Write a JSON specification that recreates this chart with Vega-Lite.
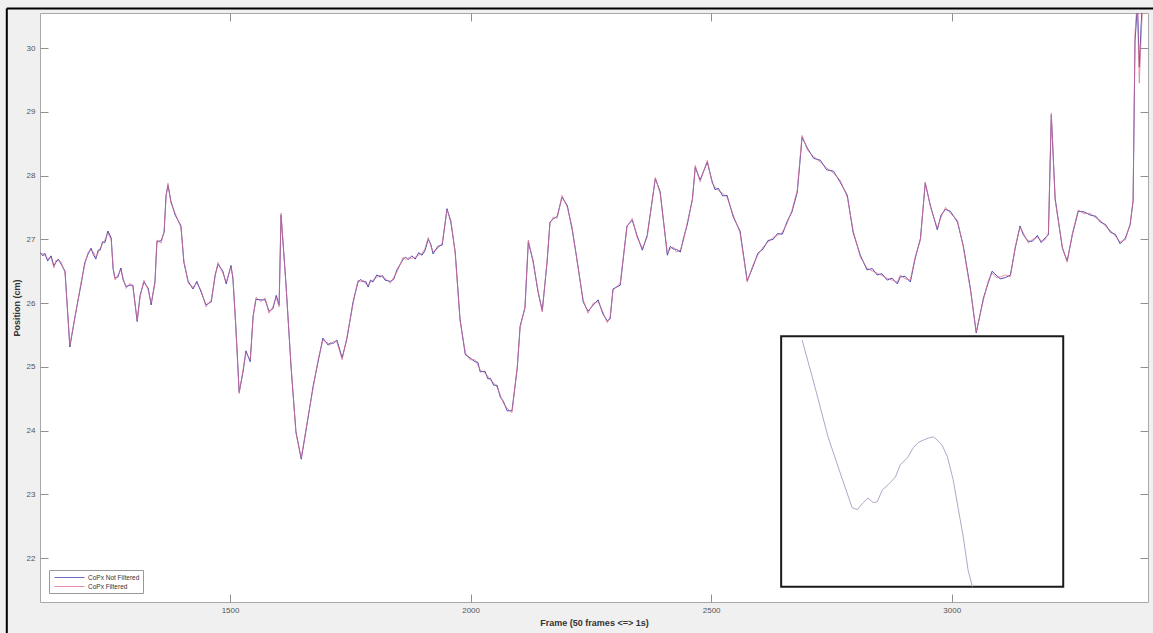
{
"$schema": "https://vega.github.io/schema/vega-lite/v6.json",
"width": 1108, "height": 589,
"autosize": {"type": "none"},
"padding": {"left": 40, "top": 13, "right": 5, "bottom": 31},
"background": "#f0f0f0",
"config": {
  "view": {"fill": "white", "stroke": "#a8a8a8", "strokeWidth": 1},
  "axis": {"grid": false, "domain": false, "tickSize": -8, "tickColor": "#909090", "labelFont": "Liberation Sans", "labelFontSize": 8, "labelColor": "#555555", "titleFont": "Liberation Sans", "titleFontSize": 9, "titleColor": "#333333", "titleFontWeight": "bold"}
},
"datasets": {
  "cop": [
{"f":1106,"filt":26.76,"raw":26.79},{"f":1111,"filt":26.78,"raw":26.74},{"f":1115,"filt":26.75,"raw":26.78},{"f":1121,"filt":26.70,"raw":26.66},{"f":1128,"filt":26.71,"raw":26.74},{"f":1134,"filt":26.55,"raw":26.58},{"f":1138,"filt":26.67,"raw":26.64},{"f":1143,"filt":26.66,"raw":26.69},{"f":1149,"filt":26.64,"raw":26.61},{"f":1157,"filt":26.47,"raw":26.50},{"f":1167,"filt":25.34,"raw":25.31},{"f":1178,"filt":25.78,"raw":25.80},{"f":1190,"filt":26.31,"raw":26.28},{"f":1198,"filt":26.60,"raw":26.63},{"f":1205,"filt":26.80,"raw":26.77},{"f":1211,"filt":26.83,"raw":26.86},{"f":1216,"filt":26.80,"raw":26.76},{"f":1221,"filt":26.72,"raw":26.69},{"f":1226,"filt":26.79,"raw":26.83},{"f":1230,"filt":26.86,"raw":26.83},{"f":1235,"filt":26.93,"raw":26.96},{"f":1240,"filt":26.99,"raw":26.95},{"f":1246,"filt":27.10,"raw":27.13},{"f":1253,"filt":26.99,"raw":27.02},{"f":1257,"filt":26.56,"raw":26.53},{"f":1261,"filt":26.36,"raw":26.39},{"f":1267,"filt":26.44,"raw":26.41},{"f":1273,"filt":26.52,"raw":26.55},{"f":1278,"filt":26.39,"raw":26.36},{"f":1284,"filt":26.23,"raw":26.26},{"f":1292,"filt":26.31,"raw":26.28},{"f":1298,"filt":26.25,"raw":26.28},{"f":1307,"filt":25.73,"raw":25.71},{"f":1313,"filt":26.09,"raw":26.12},{"f":1321,"filt":26.36,"raw":26.33},{"f":1330,"filt":26.20,"raw":26.23},{"f":1336,"filt":26.00,"raw":25.97},{"f":1344,"filt":26.31,"raw":26.34},{"f":1348,"filt":26.99,"raw":26.96},{"f":1357,"filt":26.94,"raw":26.98},{"f":1363,"filt":27.14,"raw":27.11},{"f":1367,"filt":27.66,"raw":27.69},{"f":1371,"filt":27.88,"raw":27.85},{"f":1377,"filt":27.57,"raw":27.60},{"f":1386,"filt":27.41,"raw":27.38},{"f":1398,"filt":27.18,"raw":27.21},{"f":1404,"filt":26.67,"raw":26.64},{"f":1413,"filt":26.31,"raw":26.34},{"f":1423,"filt":26.25,"raw":26.22},{"f":1431,"filt":26.31,"raw":26.34},{"f":1440,"filt":26.20,"raw":26.17},{"f":1450,"filt":25.94,"raw":25.97},{"f":1461,"filt":26.05,"raw":26.02},{"f":1469,"filt":26.41,"raw":26.44},{"f":1475,"filt":26.64,"raw":26.61},{"f":1485,"filt":26.47,"raw":26.50},{"f":1492,"filt":26.33,"raw":26.30},{"f":1502,"filt":26.56,"raw":26.59},{"f":1506,"filt":26.41,"raw":26.38},{"f":1512,"filt":25.62,"raw":25.64},{"f":1519,"filt":24.58,"raw":24.60},{"f":1527,"filt":24.95,"raw":24.92},{"f":1533,"filt":25.22,"raw":25.25},{"f":1542,"filt":25.11,"raw":25.08},{"f":1548,"filt":25.78,"raw":25.80},{"f":1554,"filt":26.09,"raw":26.06},{"f":1564,"filt":26.02,"raw":26.05},{"f":1573,"filt":26.08,"raw":26.05},{"f":1581,"filt":25.84,"raw":25.87},{"f":1589,"filt":25.94,"raw":25.91},{"f":1596,"filt":26.09,"raw":26.12},{"f":1602,"filt":25.94,"raw":25.97},{"f":1606,"filt":27.41,"raw":27.38},{"f":1616,"filt":26.31,"raw":26.33},{"f":1627,"filt":25.00,"raw":24.98},{"f":1637,"filt":23.96,"raw":23.98},{"f":1648,"filt":23.57,"raw":23.55},{"f":1662,"filt":24.21,"raw":24.19},{"f":1673,"filt":24.68,"raw":24.71},{"f":1683,"filt":25.11,"raw":25.08},{"f":1693,"filt":25.42,"raw":25.45},{"f":1704,"filt":25.37,"raw":25.34},{"f":1708,"filt":25.34,"raw":25.37},{"f":1715,"filt":25.40,"raw":25.37},{"f":1722,"filt":25.39,"raw":25.42},{"f":1733,"filt":25.11,"raw":25.14},{"f":1743,"filt":25.47,"raw":25.44},{"f":1756,"filt":26.00,"raw":26.03},{"f":1766,"filt":26.36,"raw":26.33},{"f":1772,"filt":26.33,"raw":26.37},{"f":1777,"filt":26.36,"raw":26.33},{"f":1782,"filt":26.30,"raw":26.34},{"f":1787,"filt":26.28,"raw":26.25},{"f":1792,"filt":26.33,"raw":26.36},{"f":1797,"filt":26.36,"raw":26.33},{"f":1805,"filt":26.40,"raw":26.44},{"f":1812,"filt":26.44,"raw":26.41},{"f":1817,"filt":26.40,"raw":26.43},{"f":1822,"filt":26.39,"raw":26.36},{"f":1833,"filt":26.31,"raw":26.34},{"f":1840,"filt":26.40,"raw":26.37},{"f":1847,"filt":26.49,"raw":26.52},{"f":1860,"filt":26.72,"raw":26.69},{"f":1865,"filt":26.68,"raw":26.72},{"f":1870,"filt":26.71,"raw":26.68},{"f":1878,"filt":26.70,"raw":26.74},{"f":1885,"filt":26.72,"raw":26.69},{"f":1892,"filt":26.75,"raw":26.79},{"f":1899,"filt":26.78,"raw":26.75},{"f":1905,"filt":26.85,"raw":26.82},{"f":1912,"filt":27.03,"raw":27.00},{"f":1917,"filt":26.90,"raw":26.93},{"f":1922,"filt":26.80,"raw":26.77},{"f":1932,"filt":26.86,"raw":26.89},{"f":1941,"filt":26.94,"raw":26.91},{"f":1951,"filt":27.46,"raw":27.48},{"f":1959,"filt":27.30,"raw":27.27},{"f":1968,"filt":26.78,"raw":26.80},{"f":1978,"filt":25.73,"raw":25.75},{"f":1989,"filt":25.22,"raw":25.19},{"f":1999,"filt":25.11,"raw":25.14},{"f":2009,"filt":25.11,"raw":25.08},{"f":2015,"filt":25.03,"raw":25.07},{"f":2020,"filt":24.95,"raw":24.92},{"f":2030,"filt":24.90,"raw":24.93},{"f":2036,"filt":24.85,"raw":24.81},{"f":2041,"filt":24.79,"raw":24.82},{"f":2048,"filt":24.75,"raw":24.71},{"f":2055,"filt":24.68,"raw":24.71},{"f":2062,"filt":24.55,"raw":24.52},{"f":2068,"filt":24.43,"raw":24.46},{"f":2076,"filt":24.35,"raw":24.31},{"f":2086,"filt":24.28,"raw":24.31},{"f":2097,"filt":25.00,"raw":24.98},{"f":2103,"filt":25.62,"raw":25.64},{"f":2113,"filt":25.94,"raw":25.92},{"f":2120,"filt":26.99,"raw":26.96},{"f":2130,"filt":26.63,"raw":26.66},{"f":2140,"filt":26.20,"raw":26.18},{"f":2149,"filt":25.86,"raw":25.88},{"f":2159,"filt":26.67,"raw":26.64},{"f":2165,"filt":27.25,"raw":27.27},{"f":2172,"filt":27.35,"raw":27.32},{"f":2180,"filt":27.33,"raw":27.36},{"f":2190,"filt":27.69,"raw":27.66},{"f":2201,"filt":27.50,"raw":27.53},{"f":2211,"filt":27.19,"raw":27.16},{"f":2221,"filt":26.67,"raw":26.69},{"f":2234,"filt":26.05,"raw":26.02},{"f":2244,"filt":25.84,"raw":25.87},{"f":2255,"filt":26.00,"raw":25.97},{"f":2265,"filt":26.02,"raw":26.05},{"f":2275,"filt":25.86,"raw":25.83},{"f":2284,"filt":25.69,"raw":25.72},{"f":2290,"filt":25.78,"raw":25.75},{"f":2296,"filt":26.20,"raw":26.22},{"f":2311,"filt":26.31,"raw":26.28},{"f":2325,"filt":27.19,"raw":27.21},{"f":2336,"filt":27.33,"raw":27.30},{"f":2346,"filt":27.03,"raw":27.06},{"f":2357,"filt":26.86,"raw":26.83},{"f":2367,"filt":27.03,"raw":27.06},{"f":2384,"filt":27.97,"raw":27.95},{"f":2394,"filt":27.72,"raw":27.75},{"f":2409,"filt":26.78,"raw":26.75},{"f":2415,"filt":26.85,"raw":26.89},{"f":2421,"filt":26.88,"raw":26.85},{"f":2428,"filt":26.80,"raw":26.84},{"f":2436,"filt":26.83,"raw":26.80},{"f":2443,"filt":27.00,"raw":27.03},{"f":2450,"filt":27.25,"raw":27.22},{"f":2461,"filt":27.61,"raw":27.63},{"f":2467,"filt":28.16,"raw":28.13},{"f":2477,"filt":27.90,"raw":27.93},{"f":2492,"filt":28.24,"raw":28.21},{"f":2502,"filt":27.88,"raw":27.91},{"f":2508,"filt":27.82,"raw":27.78},{"f":2515,"filt":27.77,"raw":27.80},{"f":2524,"filt":27.72,"raw":27.68},{"f":2533,"filt":27.66,"raw":27.69},{"f":2546,"filt":27.38,"raw":27.35},{"f":2560,"filt":27.10,"raw":27.13},{"f":2575,"filt":26.33,"raw":26.35},{"f":2587,"filt":26.60,"raw":26.57},{"f":2597,"filt":26.75,"raw":26.78},{"f":2608,"filt":26.88,"raw":26.85},{"f":2618,"filt":26.95,"raw":26.98},{"f":2629,"filt":27.03,"raw":27.00},{"f":2638,"filt":27.06,"raw":27.09},{"f":2648,"filt":27.11,"raw":27.08},{"f":2658,"filt":27.25,"raw":27.28},{"f":2668,"filt":27.46,"raw":27.43},{"f":2679,"filt":27.77,"raw":27.74},{"f":2689,"filt":28.63,"raw":28.60},{"f":2700,"filt":28.40,"raw":28.43},{"f":2713,"filt":28.30,"raw":28.27},{"f":2727,"filt":28.21,"raw":28.24},{"f":2740,"filt":28.12,"raw":28.09},{"f":2754,"filt":28.04,"raw":28.07},{"f":2768,"filt":27.93,"raw":27.90},{"f":2783,"filt":27.66,"raw":27.69},{"f":2795,"filt":27.14,"raw":27.11},{"f":2810,"filt":26.72,"raw":26.75},{"f":2824,"filt":26.55,"raw":26.52},{"f":2835,"filt":26.50,"raw":26.54},{"f":2845,"filt":26.47,"raw":26.44},{"f":2855,"filt":26.43,"raw":26.46},{"f":2866,"filt":26.39,"raw":26.36},{"f":2876,"filt":26.36,"raw":26.39},{"f":2887,"filt":26.33,"raw":26.30},{"f":2893,"filt":26.44,"raw":26.41},{"f":2903,"filt":26.38,"raw":26.42},{"f":2914,"filt":26.36,"raw":26.33},{"f":2924,"filt":26.72,"raw":26.70},{"f":2935,"filt":26.99,"raw":27.01},{"f":2945,"filt":27.90,"raw":27.88},{"f":2956,"filt":27.50,"raw":27.52},{"f":2970,"filt":27.18,"raw":27.15},{"f":2978,"filt":27.35,"raw":27.38},{"f":2987,"filt":27.50,"raw":27.47},{"f":2997,"filt":27.41,"raw":27.44},{"f":3012,"filt":27.30,"raw":27.27},{"f":3024,"filt":26.88,"raw":26.90},{"f":3039,"filt":26.20,"raw":26.22},{"f":3051,"filt":25.55,"raw":25.53},{"f":3066,"filt":26.05,"raw":26.08},{"f":3076,"filt":26.35,"raw":26.32},{"f":3084,"filt":26.47,"raw":26.50},{"f":3092,"filt":26.40,"raw":26.44},{"f":3101,"filt":26.41,"raw":26.38},{"f":3112,"filt":26.44,"raw":26.40},{"f":3122,"filt":26.41,"raw":26.44},{"f":3132,"filt":26.88,"raw":26.86},{"f":3142,"filt":27.19,"raw":27.21},{"f":3149,"filt":27.10,"raw":27.07},{"f":3159,"filt":26.94,"raw":26.97},{"f":3168,"filt":27.00,"raw":26.97},{"f":3178,"filt":27.03,"raw":27.06},{"f":3186,"filt":26.98,"raw":26.95},{"f":3194,"filt":26.99,"raw":27.02},{"f":3201,"filt":27.10,"raw":27.07},{"f":3207,"filt":28.98,"raw":28.95},{"f":3215,"filt":27.61,"raw":27.64},{"f":3230,"filt":26.88,"raw":26.86},{"f":3240,"filt":26.64,"raw":26.66},{"f":3251,"filt":27.10,"raw":27.08},{"f":3263,"filt":27.46,"raw":27.44},{"f":3275,"filt":27.40,"raw":27.43},{"f":3288,"filt":27.41,"raw":27.38},{"f":3300,"filt":27.33,"raw":27.36},{"f":3309,"filt":27.30,"raw":27.27},{"f":3320,"filt":27.20,"raw":27.23},{"f":3330,"filt":27.14,"raw":27.11},{"f":3340,"filt":27.05,"raw":27.08},{"f":3350,"filt":26.96,"raw":26.93},{"f":3361,"filt":26.99,"raw":27.02},{"f":3371,"filt":27.25,"raw":27.23},{"f":3377,"filt":27.61,"raw":27.60},{"f":3381,"filt":30.23,"raw":30.10},{"f":3386,"filt":30.80,"raw":30.70},{"f":3388,"filt":29.97,"raw":30.20},{"f":3390,"filt":29.45,"raw":29.70},{"f":3394,"filt":30.23,"raw":30.40},{"f":3398,"filt":30.80,"raw":30.90},{"f":3408,"filt":31.0,"raw":31.0}
  ],
  "inset": [
{"f":2689,"pos":25.42},{"f":2712,"pos":24.79},{"f":2743,"pos":23.90},{"f":2768,"pos":23.34},{"f":2793,"pos":22.79},{"f":2804,"pos":22.76},{"f":2816,"pos":22.87},{"f":2826,"pos":22.94},{"f":2837,"pos":22.87},{"f":2845,"pos":22.88},{"f":2856,"pos":23.07},{"f":2868,"pos":23.15},{"f":2883,"pos":23.27},{"f":2893,"pos":23.46},{"f":2908,"pos":23.57},{"f":2920,"pos":23.73},{"f":2930,"pos":23.81},{"f":2941,"pos":23.85},{"f":2951,"pos":23.88},{"f":2962,"pos":23.90},{"f":2970,"pos":23.85},{"f":2980,"pos":23.77},{"f":2991,"pos":23.59},{"f":3003,"pos":23.23},{"f":3013,"pos":22.80},{"f":3024,"pos":22.33},{"f":3034,"pos":21.81},{"f":3043,"pos":21.55}
  ],
  "box": [{"x1": 2645.5, "x2": 3231.8, "y1": 21.55, "y2": 25.48}],
  "frame": [{"xa": 1036, "xb": 3430, "ya": 30.62, "yb": 20.7}]
},
"layer": [
  {
    "data": {"name": "cop"},
    "mark": {"type": "line", "clip": true, "strokeWidth": 1},
    "encoding": {
      "x": {"field": "f", "type": "quantitative", "scale": {"domain": [1105, 3408], "nice": false, "zero": false},
            "axis": {"orient": "bottom", "values": [1500, 2000, 2500, 3000], "format": "d", "title": "Frame (50 frames <=> 1s)", "labelPadding": 12, "titlePadding": 4}},
      "y": {"field": "raw", "type": "quantitative", "scale": {"domain": [21.31, 30.55], "nice": false, "zero": false},
            "axis": {"orient": "left", "values": [22, 23, 24, 25, 26, 27, 28, 29, 30], "format": "d", "title": "Position (cm)", "labelPadding": 13, "titlePadding": 5}},
      "color": {"datum": "CoPx Not Filtered", "type": "nominal",
                "scale": {"domain": ["CoPx Not Filtered", "CoPx Filtered"], "range": ["#4848b4", "#e2708c"]},
                "legend": {"orient": "bottom-left", "offset": 9, "title": null, "fillColor": "white", "strokeColor": "#999999", "padding": 3, "labelFontSize": 6.5, "labelColor": "#333333", "labelFont": "Liberation Sans", "symbolType": "M-0.5,0H7", "symbolSize": 64, "symbolStrokeWidth": 1, "rowPadding": 1, "labelOffset": 27}}
    }
  },
  {
    "data": {"name": "cop"},
    "mark": {"type": "line", "clip": true, "strokeWidth": 0.9, "opacity": 0.8},
    "encoding": {
      "x": {"field": "f", "type": "quantitative", "axis": {"orient": "top", "values": [1500, 2000, 2500, 3000], "labels": false, "title": null}},
      "y": {"field": "filt", "type": "quantitative", "axis": {"orient": "right", "values": [22, 23, 24, 25, 26, 27, 28, 29, 30], "labels": false, "title": null}},
      "color": {"datum": "CoPx Filtered", "type": "nominal"}
    }
  },
  {
    "data": {"name": "box"},
    "mark": {"type": "rect", "fill": "white", "stroke": "#1a1a1a", "strokeWidth": 2},
    "encoding": {
      "x": {"field": "x1", "type": "quantitative", "axis": null},
      "x2": {"field": "x2"},
      "y": {"field": "y1", "type": "quantitative", "axis": null},
      "y2": {"field": "y2"}
    }
  },
  {
    "data": {"name": "inset"},
    "mark": {"type": "line", "color": "#b4a4c8", "strokeWidth": 1, "clip": true},
    "encoding": {
      "x": {"field": "f", "type": "quantitative", "axis": null},
      "y": {"field": "pos", "type": "quantitative", "axis": null}
    }
  },
  {
    "mark": {"type": "text", "text": "Zoom illustratif", "font": "Open Sans", "fontStyle": "italic", "fontSize": 21, "color": "#222222", "baseline": "middle", "align": "center"},
    "encoding": {
      "x": {"datum": 2966, "type": "quantitative", "axis": null},
      "y": {"datum": 24.78, "type": "quantitative", "axis": null}
    }
  },
  {
    "data": {"name": "frame"},
    "mark": {"type": "rule", "stroke": "black", "strokeWidth": 2, "clip": false},
    "encoding": {
      "x": {"field": "xa", "type": "quantitative", "axis": null},
      "y": {"field": "ya", "type": "quantitative", "axis": null},
      "y2": {"field": "yb"}
    }
  },
  {
    "data": {"name": "frame"},
    "mark": {"type": "rule", "stroke": "black", "strokeWidth": 2, "clip": false},
    "encoding": {
      "x": {"field": "xa", "type": "quantitative", "axis": null},
      "x2": {"field": "xb"},
      "y": {"field": "ya", "type": "quantitative", "axis": null}
    }
  }
]
}
